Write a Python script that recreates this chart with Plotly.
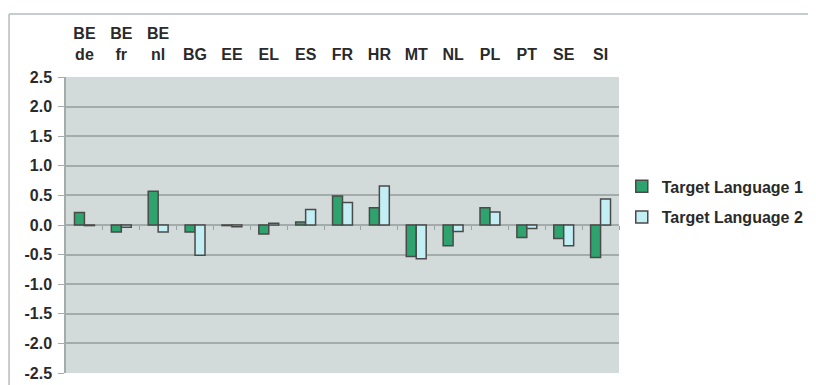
import plotly.graph_objects as go

categories = ["BE<br>de", "BE<br>fr", "BE<br>nl", "BG", "EE", "EL", "ES", "FR", "HR", "MT", "NL", "PL", "PT", "SE", "SI"]
target_lang_1 = [0.21, -0.12, 0.57, -0.12, -0.01, -0.15, 0.05, 0.49, 0.29, -0.53, -0.35, 0.29, -0.21, -0.23, -0.55]
target_lang_2 = [-0.01, -0.04, -0.12, -0.51, -0.03, 0.03, 0.26, 0.38, 0.66, -0.57, -0.11, 0.22, -0.06, -0.35, 0.44]
y_ticks = [2.5, 2.0, 1.5, 1.0, 0.5, 0.0, -0.5, -1.0, -1.5, -2.0, -2.5]

FONT = "Liberation Sans, Arial, sans-serif"
TXT = "#2a2a2a"
OUTLINE = "#4a4a4a"
GRID = "#a3abab"
FS = 16

fig = go.Figure()
fig.add_trace(go.Bar(
    x=list(range(len(categories))), y=target_lang_1, name="<b>Target Language 1</b>",
    legendgroup="a",
    marker=dict(color="#2fa36d", line=dict(color=OUTLINE, width=1.5)),
))
fig.add_trace(go.Bar(
    x=list(range(len(categories))), y=target_lang_2, name="<b>Target Language 2</b>",
    legendgroup="b",
    marker=dict(color="#c2eef4", line=dict(color=OUTLINE, width=1.5)),
))
# invisible trace to carry the zero-line tick marks axis
fig.add_trace(go.Scatter(x=[None], y=[None], xaxis="x2", showlegend=False, hoverinfo="skip"))

n = len(categories)
fig.update_layout(
    width=808, height=377,
    margin=dict(l=58, r=197, t=69, b=12, autoexpand=False),
    paper_bgcolor="white",
    plot_bgcolor="#d3dada",
    barmode="group",
    bargap=0.46,
    bargroupgap=0,
    font=dict(family=FONT, size=FS, color=TXT),
    showlegend=True,
    legend=dict(
        x=1.005, y=0.578, xanchor="left", yanchor="middle",
        font=dict(family=FONT, size=FS, color=TXT),
        itemwidth=30, tracegroupgap=7, traceorder="grouped",
        bgcolor="rgba(0,0,0,0)",
    ),
    xaxis=dict(
        side="top",
        tickmode="array",
        tickvals=list(range(n)),
        ticktext=[f"<b>{c}</b>" for c in categories],
        range=[-0.5, n - 0.5],
        showgrid=False, zeroline=False, showline=False,
        ticks="outside", ticklen=10, tickcolor="rgba(0,0,0,0)",
        tickfont=dict(family=FONT, size=FS, color=TXT),
        automargin=False,
    ),
    xaxis2=dict(
        overlaying="x", anchor="free", position=0.5, side="bottom",
        range=[-0.5, n - 0.5],
        tickmode="array",
        tickvals=[i + 0.5 for i in range(n)],
        showticklabels=False, showgrid=False, zeroline=False, showline=False,
        ticks="outside", ticklen=4, tickcolor="#9aa3a3", tickwidth=1,
        automargin=False,
    ),
    yaxis=dict(
        range=[-2.5, 2.5],
        tickmode="array",
        tickvals=y_ticks,
        ticktext=[f"<b>{v:.1f}</b>" for v in y_ticks],
        showgrid=True, gridcolor=GRID, gridwidth=1.5,
        zeroline=False,
        showline=True, linecolor=GRID, linewidth=1.5,
        ticks="outside", ticklen=6, tickcolor=GRID,
        ticklabelstandoff=3,
        tickfont=dict(family=FONT, size=FS, color=TXT),
        automargin=False,
    ),
    shapes=[
        dict(type="line", xref="paper", yref="paper", x0=-0.103, x1=1.4, y0=1.2128, y1=1.2128,
             line=dict(color="#b5bbbb", width=1.5)),
        dict(type="line", xref="paper", yref="paper", x0=-0.103, x1=-0.103, y0=1.2128, y1=-0.1,
             line=dict(color="#b5bbbb", width=1.5)),
    ],
)

fig.write_html("out.html")
